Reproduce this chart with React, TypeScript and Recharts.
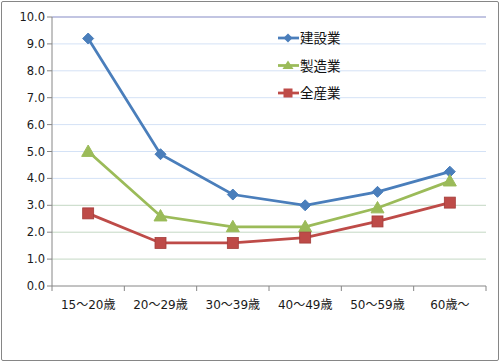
import React from "react";
import { LineChart, Line, XAxis, YAxis, CartesianGrid, ReferenceLine } from "recharts";

const categories = ["15～20歳", "20～29歳", "30～39歳", "40～49歳", "50～59歳", "60歳～"];
const construction = [9.2, 4.9, 3.4, 3.0, 3.5, 4.25];
const manufacturing = [5.0, 2.6, 2.2, 2.2, 2.9, 3.9];
const allIndustries = [2.7, 1.6, 1.6, 1.8, 2.4, 3.1];
const yTicks = [0, 1, 2, 3, 4, 5, 6, 7, 8, 9, 10];
const gridUpper = [4, 5, 6, 7, 8, 9];
const gridLower = [1, 2, 3];

const seriesNames = ["建設業", "製造業", "全産業"];
const colors = ["#4a7ebb", "#9bbb59", "#be4b48"];

const data = categories.map((c, i) => ({
  name: c,
  a: construction[i],
  b: manufacturing[i],
  c: allIndustries[i],
}));

const FONT = "'DejaVu Sans', 'Noto Sans CJK JP', sans-serif";
const HALF = 434 / categories.length / 2;

const Diamond = (props: any) => {
  const { cx, cy } = props;
  if (cx == null || cy == null) return null;
  const r = 5.5;
  return <path d={`M${cx},${cy - r}L${cx + r},${cy}L${cx},${cy + r}L${cx - r},${cy}Z`} fill={colors[0]} stroke={colors[0]} />;
};
const Triangle = (props: any) => {
  const { cx, cy } = props;
  if (cx == null || cy == null) return null;
  const r = 6.5;
  return <path d={`M${cx},${cy - r}L${cx + r},${cy + r * 0.75}L${cx - r},${cy + r * 0.75}Z`} fill={colors[1]} stroke={colors[1]} />;
};
const Square = (props: any) => {
  const { cx, cy } = props;
  if (cx == null || cy == null) return null;
  const r = 5.5;
  return <rect x={cx - r} y={cy - r} width={2 * r} height={2 * r} fill={colors[2]} stroke="#a33d3a" strokeWidth={0.8} />;
};

const XTick = (props: any) => {
  const { x, y, payload, index } = props;
  return (
    <g>
      <line x1={x - HALF} y1={y - 8} x2={x - HALF} y2={y - 3} stroke="#868686" />
      {index === categories.length - 1 && (
        <line x1={x + HALF} y1={y - 8} x2={x + HALF} y2={y - 3} stroke="#868686" />
      )}
      <text x={x} y={y + 15} textAnchor="middle" fontSize={12} fill="#1a1a1a" fontFamily={FONT}>
        {payload.value}
      </text>
    </g>
  );
};

const legendMarkers = [
  (cx: number, cy: number) => <path d={`M${cx},${cy - 4.5}L${cx + 4.5},${cy}L${cx},${cy + 4.5}L${cx - 4.5},${cy}Z`} fill={colors[0]} />,
  (cx: number, cy: number) => <path d={`M${cx},${cy - 5}L${cx + 5.5},${cy + 3.5}L${cx - 5.5},${cy + 3.5}Z`} fill={colors[1]} />,
  (cx: number, cy: number) => <rect x={cx - 4.5} y={cy - 4.5} width={9} height={9} fill={colors[2]} />,
];

export default function App() {
  return (
    <div style={{ position: "absolute", left: 0, top: 0, width: 500, height: 361, background: "#fff" }}>
      <div
        style={{
          position: "absolute",
          left: 1,
          top: 1,
          width: 496,
          height: 358,
          border: "1px solid #868686",
          borderRadius: 2,
        }}
      />
      <LineChart
        width={500}
        height={361}
        data={data}
        margin={{ top: 17, right: 14, bottom: 45, left: 0 }}
        style={{ position: "absolute", left: 0, top: 0 }}
      >
        <CartesianGrid vertical={false} horizontal={false} />
        {gridUpper.map((v) => (
          <ReferenceLine key={"u" + v} y={v} stroke="#d4e2f6" strokeWidth={1} />
        ))}
        {gridLower.map((v) => (
          <ReferenceLine key={"l" + v} y={v} stroke="#c4d8c4" strokeWidth={1} />
        ))}
        <ReferenceLine y={10} stroke="#aeb2d8" strokeWidth={1.5} />
        <XAxis
          dataKey="name"
          height={30}
          axisLine={{ stroke: "#868686" }}
          tickLine={false}
          tick={<XTick />}
          interval={0}
          padding={{ left: HALF, right: HALF }}
        />
        <YAxis
          width={52}
          domain={[0, 10]}
          ticks={yTicks}
          tickFormatter={(v: number) => v.toFixed(1)}
          axisLine={{ stroke: "#868686" }}
          tickLine={{ stroke: "#868686" }}
          tickSize={5}
          tick={{ fontSize: 11.5, fill: "#1a1a1a", fontFamily: FONT }}
          interval={0}
        />
        <Line dataKey="a" stroke={colors[0]} strokeWidth={2.75} dot={<Diamond />} isAnimationActive={false} />
        <Line dataKey="b" stroke={colors[1]} strokeWidth={2.75} dot={<Triangle />} isAnimationActive={false} />
        <Line dataKey="c" stroke={colors[2]} strokeWidth={2.75} dot={<Square />} isAnimationActive={false} />
      </LineChart>
      <svg style={{ position: "absolute", left: 270, top: 25 }} width={110} height={80}>
        {seriesNames.map((n, i) => {
          const cy = 13 + i * 27.5;
          return (
            <g key={n}>
              <line x1={8} y1={cy} x2={29} y2={cy} stroke={colors[i]} strokeWidth={2.75} />
              {legendMarkers[i](18, cy)}
              <text x={30} y={cy + 5} fontSize={13.5} fill="#111" fontFamily="'Noto Sans CJK JP', sans-serif">
                {n}
              </text>
            </g>
          );
        })}
      </svg>
    </div>
  );
}
